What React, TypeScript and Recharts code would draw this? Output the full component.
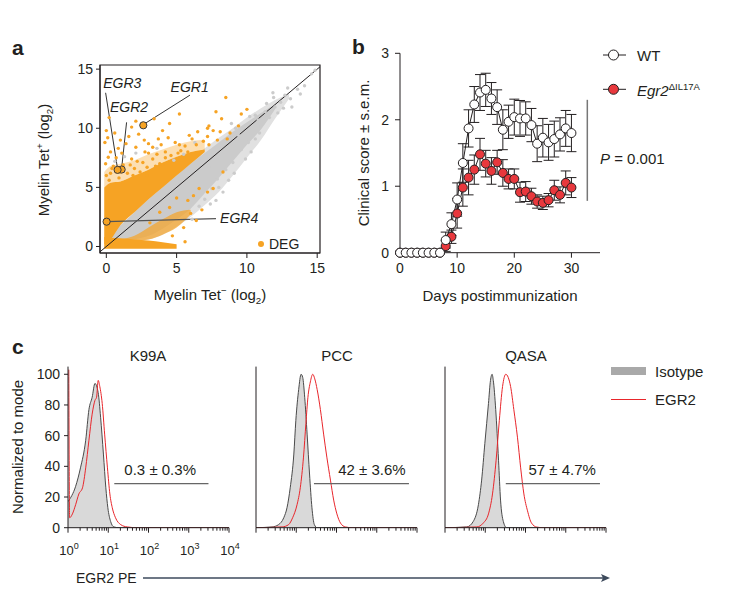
import React from 'react';
import {
  Area,
  ComposedChart,
  ErrorBar,
  Line,
  LineChart,
  ReferenceArea,
  ReferenceDot,
  ReferenceLine,
  Scatter,
  XAxis,
  YAxis,
} from 'recharts';

const FONT = '"Liberation Sans", Arial, Helvetica, sans-serif';
const INK = '#231f20';
const ORANGE = '#f6a324';
const GREY = '#cbcbcb';
const RED = '#e8383d';
const HIST_RED = '#e8262b';

// ---------- panel a: myelin Tet+ vs Tet- (log2) ----------
const bandX = [-0.15, 0.3, 1, 2, 3, 4, 5, 6, 7, 8, 9, 10, 11, 12, 13];
const haloLow = [null, null, null, 0.4, 0.6, 1.0, 1.7, 2.5, 3.5, 4.6, 6.0, 7.5, 9.0, 10.8, 12.5];
const haloHigh = [null, null, null, 3.2, 4.4, 5.3, 6.3, 7.3, 8.3, 9.2, 10.0, 10.9, 11.7, 12.4, 12.9];
const greyLow = [null, 0.3, 0.45, 0.6, 0.9, 1.5, 2.3, 3.2, 4.5, 5.8, 7.2, 8.6, 9.9, 11.6, null];
const greyHigh = [null, 1.0, 1.8, 2.9, 4.0, 5.0, 6.0, 7.0, 7.9, 8.8, 9.7, 10.5, 11.3, 12.0, null];
const degUpLow = [0.2, 0.6, 1.8, 2.9, 4.0, 5.0, 6.0, 7.0, 8.0, null, null, null, null, null, null];
const degUpHigh = [5.0, 5.4, 5.5, 6.0, 6.5, 7.1, 7.6, 8.0, 8.2, null, null, null, null, null, null];
const degHazeLow = [5.0, 5.4, 5.5, 6.0, 6.5, 7.1, 7.6, 8.0, 8.2, null, null, null, null, null, null];
const degHazeHigh = [6.3, 6.8, 7.0, 7.3, 7.8, 8.2, 8.6, 8.9, 9.0, null, null, null, null, null, null];
const degFloorLow = [-0.2, -0.2, -0.2, -0.2, -0.2, -0.2, -0.2, null, null, null, null, null, null, null, null];
const degFloorHigh = [0.8, 0.75, 0.7, 0.6, 0.5, 0.35, 0.2, null, null, null, null, null, null, null, null];
const degDownLow = [null, null, 0.55, 0.5, 0.6, 1.0, 1.6, 2.7, null, null, null, null, null, null, null];
const degDownHigh = [null, null, 0.6, 0.9, 1.6, 2.3, 2.9, 3.1, null, null, null, null, null, null, null];

const degPoints: [number, number][] = [
  [8.5, 12.6], [7.8, 11.4], [8.2, 10.8], [9.6, 11.2], [10.0, 11.6], [7.3, 10.2], [8.1, 9.7],
  [7.6, 9.8], [7.2, 9.3], [7.9, 9.0], [7.3, 8.6], [8.6, 9.1], [8.3, 6.3], [7.6, 4.9], [7.2, 4.6],
  [5.2, 11.2], [3.4, 10.8], [4.5, 10.4], [1.8, 10.1], [0.0, 9.8], [-0.1, 8.8], [2.3, 9.5],
  [3.7, 9.1], [3.0, 8.7], [4.9, 8.8], [0.85, 8.3], [1.8, 7.4], [0.14, 7.55], [2.75, 8.0],
  [4.2, 8.0], [5.6, 8.5], [6.1, 9.1], [6.5, 9.7], [7.2, 10.0], [0.5, 6.8], [1.2, 6.9],
  [2.0, 6.6], [2.6, 7.1], [3.3, 7.4], [3.8, 7.0], [4.6, 7.7], [5.3, 8.1], [6.4, 8.6], [6.9, 8.9],
  [0.3, 6.2], [1.5, 6.2], [2.4, 6.3], [3.5, 6.8], [4.2, 7.5], [5.8, 8.0], [0.9, 5.8], [1.9, 6.0],
  [0.2, 5.6], [5.0, 4.1], [5.8, 3.9], [6.2, 4.3], [4.5, 3.3], [6.6, 4.9], [3.8, 2.9], [5.5, 1.6],
  [6.4, 2.2], [4.7, 0.9], [5.6, 0.4], [6.8, 3.1], [1.0, 9.0], [9.4, 10.2], [8.8, 9.6], [0.1, 9.2],
  [-0.05, 7.0], [2.9, 6.0], [4.0, 6.9], [5.1, 7.9], [6.0, 2.8], [3.1, 2.0],
  [0.6, 9.6], [1.4, 8.7], [2.1, 8.4], [0.3, 8.0], [1.1, 7.9], [2.2, 7.2], [0.7, 7.5], [3.0, 7.9],
  [3.9, 8.6], [4.4, 9.2], [1.6, 9.3], [2.7, 9.0], [0.4, 6.6], [1.7, 6.9], [2.9, 6.7], [3.3, 8.4],
  [5.9, 9.4], [4.0, 9.8], [2.1, 10.6], [0.2, 10.9], [1.0, 6.3], [0.0, 6.0], [3.6, 7.8], [5.2, 8.6],
];
const otherPoints: [number, number][] = [
  [11.85, 13.0], [12.7, 12.8], [13.1, 12.5], [14.6, 14.6], [14.85, 14.9], [14.1, 13.6],
  [13.2, 11.8], [12.6, 11.7], [11.3, 11.4], [10.6, 9.1], [10.1, 8.8], [11.4, 12.1], [11.9, 12.6],
  [9.5, 9.1], [9.9, 7.4], [9.0, 7.1], [8.7, 5.6], [7.5, 4.9], [7.9, 5.7], [7.3, 6.8], [9.4, 9.4],
  [9.2, 10.0], [10.8, 10.7], [10.6, 11.1], [12.2, 11.3], [13.6, 13.3], [12.9, 13.4], [11.0, 10.2],
  [10.4, 9.8], [6.6, 3.4], [7.0, 4.0], [8.0, 5.0], [8.5, 6.5], [9.6, 8.2], [10.9, 9.6],
  [11.6, 10.9], [12.0, 11.8], [6.3, 8.8], [5.5, 7.8], [4.8, 7.3], [0.6, 7.2], [1.3, 7.6],
  [2.1, 7.9], [3.6, 8.3], [8.9, 10.4], [10.2, 11.0], [12.4, 12.2], [13.8, 12.9],
  [6.1, 2.3], [7.4, 3.6], [8.3, 4.6], [9.1, 6.2], [7.8, 3.9], [10.3, 8.0],
];
const geneNames = ['EGR1', 'EGR2', 'EGR3', 'EGR4'];
const geneX = [2.63, 1.09, 0.8, 0.02];
const geneY = [10.25, 6.51, 6.48, 2.1];

// ---------- panel b: clinical score ----------
const days = Array.from({ length: 31 }, (_, i) => i);
const wtScore = [0, 0, 0, 0, 0, 0, 0, 0, 0.19, 0.43, 0.8, 1.35, 1.87, 2.23, 2.41, 2.45, 2.32, 2.19, 1.85, 1.97, 2.04, 2.02, 2.02, 1.92, 1.64, 1.73, 1.66, 1.71, 1.78, 1.87, 1.8];
const wtSem = [0, 0, 0, 0, 0, 0, 0, 0, 0.12, 0.17, 0.25, 0.29, 0.28, 0.27, 0.27, 0.25, 0.24, 0.26, 0.3, 0.25, 0.27, 0.27, 0.25, 0.25, 0.27, 0.29, 0.27, 0.27, 0.25, 0.27, 0.28];
const koScore = [0, 0, 0, 0, 0, 0, 0, 0, 0.1, 0.24, 0.59, 0.98, 1.13, 1.25, 1.48, 1.34, 1.23, 1.36, 1.2, 1.11, 1.11, 0.91, 0.92, 0.85, 0.77, 0.75, 0.79, 0.94, 0.87, 1.05, 0.98];
const koSem = [0, 0, 0, 0, 0, 0, 0, 0, 0.08, 0.1, 0.22, 0.28, 0.26, 0.22, 0.24, 0.2, 0.2, 0.18, 0.2, 0.15, 0.15, 0.15, 0.15, 0.12, 0.1, 0.1, 0.1, 0.15, 0.12, 0.18, 0.15];

// ---------- panel c: EGR2 PE histograms (log10 intensity, % of mode) ----------
const k99aIsoX = [0, 0.19, 0.31, 0.44, 0.52, 0.6, 0.67, 0.75, 0.81, 0.88, 0.94, 0.99, 1.06, 1.14, 1.27, 4];
const k99aIsoY = [17, 27, 39, 57, 77, 85, 94, 88, 72, 48, 26, 13, 4, 0.5, 0, 0];
const k99aEgrX = [0.02, 0.04, 0.11, 0.19, 0.27, 0.36, 0.44, 0.52, 0.6, 0.67, 0.71, 0.75, 0.79, 0.85, 0.91, 0.98, 1.04, 1.1, 1.18, 1.31, 1.47, 1.72, 4];
const k99aEgrY = [103, 6.5, 9, 15, 22, 26, 39, 57, 74, 83, 85, 96, 92, 81, 61, 39, 22, 13, 6.5, 2, 0.5, 0, 0];
const pccIsoX = [0, 0.4, 0.56, 0.69, 0.77, 0.85, 0.94, 0.99, 1.06, 1.12, 1.16, 1.21, 1.27, 1.33, 1.39, 1.45, 1.52, 4];
const pccIsoY = [0, 0.5, 2, 6.5, 13, 26, 48, 70, 90, 100, 98, 85, 61, 35, 13, 2, 0, 0];
const pccEgrX = [0, 0.65, 0.81, 0.91, 1.02, 1.1, 1.18, 1.24, 1.29, 1.35, 1.41, 1.46, 1.52, 1.6, 1.68, 1.76, 1.85, 1.93, 2.01, 2.1, 2.22, 2.39, 4];
const pccEgrY = [0, 0.5, 2, 6.5, 15, 26, 46, 68, 85, 95, 100, 97, 90, 77, 61, 46, 31, 18, 9, 3, 0.5, 0, 0];
const qasaIsoX = [0, 0.54, 0.7, 0.83, 0.91, 0.99, 1.08, 1.13, 1.17, 1.2, 1.26, 1.33, 1.38, 1.45, 1.53, 4];
const qasaIsoY = [0, 0.5, 4, 15, 31, 55, 81, 96, 100, 96, 77, 44, 18, 4, 0, 0];
const qasaEgrX = [0, 0.79, 0.95, 1.08, 1.18, 1.27, 1.35, 1.43, 1.51, 1.57, 1.63, 1.71, 1.8, 1.88, 1.96, 2.05, 2.15, 2.28, 2.44, 4];
const qasaEgrY = [0, 0.5, 3, 9, 22, 44, 70, 92, 100, 98, 92, 77, 59, 39, 22, 11, 3, 0.4, 0, 0];

const sampleNames = ['K99A', 'PCC', 'QASA'];
const gateText = ['0.3 ± 0.3%', '42 ± 3.6%', '57 ± 4.7%'];
const gateFrom = [1.15, 1.44, 1.51];
const gateTo = [3.49, 3.8, 3.85];
const gateLabelX = [2.29, 2.88, 2.91];
const GATE_Y = 28.7;
const decades = [0, 1, 2, 3, 4];
const minorSteps = [2, 3, 4, 5, 6, 7, 8, 9];

const pair = (lo: number | null, hi: number | null) => (lo == null || hi == null ? null : [lo, hi]);
const bandRows = bandX.map((x, i) => ({
  x,
  halo: pair(haloLow[i], haloHigh[i]),
  grey: pair(greyLow[i], greyHigh[i]),
  up: pair(degUpLow[i], degUpHigh[i]),
  haze: pair(degHazeLow[i], degHazeHigh[i]),
  floor: pair(degFloorLow[i], degFloorHigh[i]),
  down: pair(degDownLow[i], degDownHigh[i]),
}));
const toXY = (pts: [number, number][]) => pts.map(([x, y]) => ({ x, y }));
const zip = (xs: number[], ys: number[]) => xs.map((x, i) => ({ x, y: ys[i] }));

const scoreRows = days.map((day, i) => ({
  day,
  wt: wtScore[i],
  wtErr: wtSem[i],
  ko: koScore[i],
  koErr: koSem[i],
}));

const histograms = [
  { iso: zip(k99aIsoX, k99aIsoY), egr: zip(k99aEgrX, k99aEgrY) },
  { iso: zip(pccIsoX, pccIsoY), egr: zip(pccEgrX, pccEgrY) },
  { iso: zip(qasaIsoX, qasaIsoY), egr: zip(qasaEgrX, qasaEgrY) },
];
const logTicks = decades.flatMap((d) => [d, ...(d < 4 ? minorSteps.map((k) => d + Math.log10(k)) : [])]);

const tickStyle = { fontSize: 14, fill: INK, fontFamily: FONT };

const Dot = ({ cx, cy, r, fill, stroke }: any) => (
  <circle cx={cx} cy={cy} r={r} fill={fill} stroke={stroke ?? 'none'} />
);

const LogTick = (props: any) => {
  const { x, y, payload, showLabel } = props;
  const v = payload.value;
  const major = Math.abs(v - Math.round(v)) < 1e-6;
  return (
    <g>
      <line x1={x} x2={x} y1={y} y2={y + (major ? 5 : 3)} stroke={INK} strokeWidth={1} />
      {major && showLabel ? (
        <text x={x + 1} y={y + 27} textAnchor="middle" fontSize={13} fill={INK} fontFamily={FONT}>
          10
          <tspan dy={-6} fontSize={9}>
            {Math.round(v)}
          </tspan>
        </text>
      ) : null}
    </g>
  );
};

const Txt: React.FC<{
  x: number;
  y: number;
  size?: number;
  anchor?: 'start' | 'middle';
  rotate?: boolean;
  bold?: boolean;
  children: React.ReactNode;
}> = ({ x, y, size = 15, anchor = 'middle', rotate = false, bold = false, children }) => (
  <div
    style={{
      position: 'absolute',
      left: x,
      top: y,
      fontSize: size,
      fontWeight: bold ? 700 : 400,
      lineHeight: 1,
      whiteSpace: 'nowrap',
      transform: `translate(${anchor === 'middle' ? '-50%' : '0'}, -50%)${rotate ? ' rotate(-90deg)' : ''}`,
      transformOrigin: anchor === 'middle' ? '50% 50%' : '0 50%',
    }}
  >
    {children}
  </div>
);

const subSmall: React.CSSProperties = { fontSize: '0.65em' };

const band = (key: string, fill: string, opacity = 1) => (
  <Area
    dataKey={key}
    type="monotone"
    fill={fill}
    fillOpacity={opacity}
    stroke="none"
    dot={false}
    activeDot={false}
    isAnimationActive={false}
  />
);

const ScatterPanel = () => (
  <div style={{ position: 'absolute', left: 0, top: 0 }}>
    <ComposedChart width={340} height={310} data={bandRows} margin={{ top: 65, right: 20, left: 60, bottom: 27 }}>
      <XAxis
        type="number"
        dataKey="x"
        domain={[-0.45, 15.2]}
        ticks={[0, 5, 10, 15]}
        interval={0}
        allowDataOverflow
        tickSize={5}
        tickMargin={5}
        height={30}
        stroke={INK}
        tick={tickStyle}
      />
      <YAxis
        type="number"
        domain={[-0.55, 15.35]}
        ticks={[0, 5, 10, 15]}
        interval={0}
        allowDataOverflow
        tickSize={4}
        tickMargin={3}
        width={40}
        stroke={INK}
        tick={tickStyle}
      />
      {band('halo', '#e1e1e1')}
      {band('grey', GREY)}
      <Scatter data={toXY(otherPoints)} dataKey="y" isAnimationActive={false} shape={(p: any) => <Dot {...p} r={1.7} fill={GREY} />} />
      {band('down', ORANGE, 0.7)}
      {band('floor', ORANGE)}
      {band('haze', ORANGE, 0.35)}
      {band('up', ORANGE)}
      <Scatter data={toXY(degPoints)} dataKey="y" isAnimationActive={false} shape={(p: any) => <Dot {...p} r={1.7} fill={ORANGE} />} />
      <ReferenceLine segment={[{ x: -0.45, y: -0.45 }, { x: 15.2, y: 15.2 }]} stroke={INK} strokeWidth={1} ifOverflow="visible" />
      <ReferenceLine segment={[{ x: -0.05, y: 13.0 }, { x: 0.8, y: 6.56 }]} stroke="#333" strokeWidth={1} ifOverflow="visible" />
      <ReferenceLine segment={[{ x: 1.44, y: 10.5 }, { x: 1.09, y: 6.62 }]} stroke="#333" strokeWidth={1} ifOverflow="visible" />
      <ReferenceLine segment={[{ x: 5.95, y: 12.8 }, { x: 2.75, y: 10.4 }]} stroke="#333" strokeWidth={1} ifOverflow="visible" />
      <ReferenceLine segment={[{ x: 0.02, y: 2.1 }, { x: 7.8, y: 2.35 }]} stroke="#555" strokeWidth={1.3} ifOverflow="visible" />
      <Scatter
        data={geneNames.map((name, i) => ({ name, x: geneX[i], y: geneY[i] }))}
        dataKey="y"
        isAnimationActive={false}
        shape={(p: any) => <Dot {...p} r={3.6} fill={ORANGE} stroke="#3a3a3a" />}
      />
      <ReferenceDot x={1.14} y={13.86} r={1} fill="none" stroke="none" label={{ value: 'EGR3', position: 'center', fontSize: 14, fontStyle: 'italic', fill: INK }} />
      <ReferenceDot x={1.62} y={11.77} r={1} fill="none" stroke="none" label={{ value: 'EGR2', position: 'center', fontSize: 14, fontStyle: 'italic', fill: INK }} />
      <ReferenceDot x={5.93} y={13.52} r={1} fill="none" stroke="none" label={{ value: 'EGR1', position: 'center', fontSize: 14, fontStyle: 'italic', fill: INK }} />
      <ReferenceDot x={7.95} y={2.4} r={1} fill="none" stroke="none" label={{ value: 'EGR4', position: 'right', offset: 1, fontSize: 14, fontStyle: 'italic', fill: INK }} />
      <ReferenceArea x1={-0.45} x2={15.2} y1={-0.55} y2={15.35} fill="none" stroke={INK} strokeWidth={1.2} ifOverflow="visible" />
    </ComposedChart>
  </div>
);

const ScorePanel = () => (
  <div style={{ position: 'absolute', left: 340, top: 0 }}>
    <LineChart width={270} height={310} data={scoreRows} margin={{ top: 53.3, right: 10, left: 30, bottom: 27.3 }}>
      <XAxis
        type="number"
        dataKey="day"
        domain={[0, 35]}
        ticks={[0, 10, 20, 30]}
        interval={0}
        tickSize={5}
        tickMargin={5}
        height={30}
        stroke={INK}
        tick={tickStyle}
      />
      <YAxis
        type="number"
        domain={[0, 3]}
        ticks={[0, 1, 2, 3]}
        interval={0}
        tickSize={5}
        tickMargin={6}
        width={30}
        stroke={INK}
        tick={tickStyle}
      />
      <ReferenceLine segment={[{ x: 32.78, y: 0.78 }, { x: 32.78, y: 2.3 }]} stroke="#777" strokeWidth={1.5} ifOverflow="visible" />
      <Line
        dataKey="ko"
        stroke={INK}
        strokeWidth={1}
        dot={{ r: 4.5, fill: RED, stroke: INK, strokeWidth: 1 }}
        activeDot={false}
        isAnimationActive={false}
      >
        <ErrorBar dataKey="koErr" width={5} stroke={INK} strokeWidth={1} direction="y" />
      </Line>
      <Line
        dataKey="wt"
        stroke={INK}
        strokeWidth={1}
        dot={{ r: 4.5, fill: '#fff', stroke: INK, strokeWidth: 1 }}
        activeDot={false}
        isAnimationActive={false}
      >
        <ErrorBar dataKey="wtErr" width={5} stroke={INK} strokeWidth={1} direction="y" />
      </Line>
    </LineChart>
  </div>
);

const HistPanel = ({ index, left }: { index: number; left: number }) => {
  const h = histograms[index];
  const first = index === 0;
  return (
    <div style={{ position: 'absolute', left, top: 340 }}>
      <ComposedChart width={226} height={230} margin={{ top: 26.6, right: 15, left: 0, bottom: 12.3 }}>
        <XAxis
          type="number"
          dataKey="x"
          domain={[0, 4]}
          ticks={logTicks}
          interval={0}
          allowDataOverflow
          tickSize={0}
          tickMargin={0}
          tickLine={false}
          height={30}
          stroke={INK}
          tick={(p: any) => <LogTick {...p} showLabel={first} />}
        />
        <YAxis
          type="number"
          domain={[0, 105]}
          ticks={[0, 20, 40, 60, 80, 100]}
          interval={0}
          allowDataOverflow
          tickSize={4}
          tickMargin={4}
          width={50}
          stroke={INK}
          tick={first ? tickStyle : false}
        />
        <Area
          data={h.iso}
          dataKey="y"
          type="monotone"
          fill="#d9d9d9"
          fillOpacity={1}
          stroke="#4a4a4a"
          strokeWidth={1}
          dot={false}
          activeDot={false}
          isAnimationActive={false}
        />
        <Line
          data={h.egr}
          dataKey="y"
          type="monotone"
          stroke={HIST_RED}
          strokeWidth={1}
          dot={false}
          activeDot={false}
          isAnimationActive={false}
        />
        <ReferenceLine
          segment={[{ x: gateFrom[index], y: GATE_Y }, { x: gateTo[index], y: GATE_Y }]}
          stroke="#666"
          strokeWidth={1.3}
          ifOverflow="visible"
        />
        <ReferenceDot
          x={gateLabelX[index]}
          y={37.8}
          r={1}
          fill="none"
          stroke="none"
          label={{ value: gateText[index], position: 'center', fontSize: 15, fill: INK }}
        />
      </ComposedChart>
    </div>
  );
};

export default function App() {
  return (
    <div
      style={{
        position: 'absolute',
        left: 0,
        top: 0,
        width: 744,
        height: 589,
        background: '#fff',
        fontFamily: FONT,
        color: INK,
        overflow: 'hidden',
      }}
    >
      <ScatterPanel />
      <ScorePanel />
      <HistPanel index={0} left={17.7} />
      <HistPanel index={1} left={206} />
      <HistPanel index={2} left={395} />

      {/* panel letters */}
      <Txt x={12} y={47} size={21} anchor="start" bold>a</Txt>
      <Txt x={352} y={46} size={21} anchor="start" bold>b</Txt>
      <Txt x={12} y={346} size={21} anchor="start" bold>c</Txt>

      {/* panel a titles and key */}
      <Txt x={45} y={160} rotate>
        Myelin Tet<sup style={subSmall}>+</sup> (log<sub style={subSmall}>2</sub>)
      </Txt>
      <Txt x={210} y={296}>
        Myelin Tet<sup style={subSmall}>−</sup> (log<sub style={subSmall}>2</sub>)
      </Txt>
      <div style={{ position: 'absolute', left: 258, top: 240.5, width: 6, height: 6, borderRadius: 3, background: ORANGE }} />
      <Txt x={269} y={243.5} size={14} anchor="start">DEG</Txt>

      {/* panel b titles, key and P value */}
      <Txt x={363} y={153} rotate>Clinical score ± s.e.m.</Txt>
      <Txt x={500} y={295}>Days postimmunization</Txt>
      <svg style={{ position: 'absolute', left: 600, top: 40 }} width={30} height={60}>
        <line x1={3} x2={26} y1={15} y2={15} stroke={INK} strokeWidth={1} />
        <circle cx={13.5} cy={15} r={5} fill="#fff" stroke={INK} strokeWidth={1} />
        <line x1={3} x2={26} y1={49.3} y2={49.3} stroke={INK} strokeWidth={1} />
        <circle cx={13.5} cy={49.3} r={5} fill={RED} stroke={INK} strokeWidth={1} />
      </svg>
      <Txt x={637} y={55} size={15} anchor="start">WT</Txt>
      <Txt x={637} y={90} size={15} anchor="start">
        <i>Egr2</i>
        <sup style={{ fontSize: 9.5 }}>ΔIL17A</sup>
      </Txt>
      <Txt x={600} y={157.7} size={15} anchor="start">
        <i>P</i> = 0.001
      </Txt>

      {/* panel c titles and key */}
      {sampleNames.map((name, i) => (
        <Txt key={name} x={[148, 337, 526][i]} y={355}>
          {name}
        </Txt>
      ))}
      <Txt x={17} y={447} rotate>Normalized to mode</Txt>
      <div style={{ position: 'absolute', left: 611, top: 367, width: 35, height: 8, background: '#a9a9a9' }} />
      <Txt x={655} y={371} size={15} anchor="start">Isotype</Txt>
      <div style={{ position: 'absolute', left: 611, top: 398.5, width: 35, height: 1, background: HIST_RED }} />
      <Txt x={655} y={399} size={15} anchor="start">EGR2</Txt>
      <Txt x={76} y={578} size={14} anchor="start">EGR2 PE</Txt>
      <svg style={{ position: 'absolute', left: 140, top: 572 }} width={475} height={12}>
        <line x1={3} x2={466} y1={6} y2={6} stroke="#3d4a5c" strokeWidth={1.3} />
        <polygon points="470,6 461,2 463,6 461,10" fill="#3d4a5c" />
      </svg>
    </div>
  );
}
